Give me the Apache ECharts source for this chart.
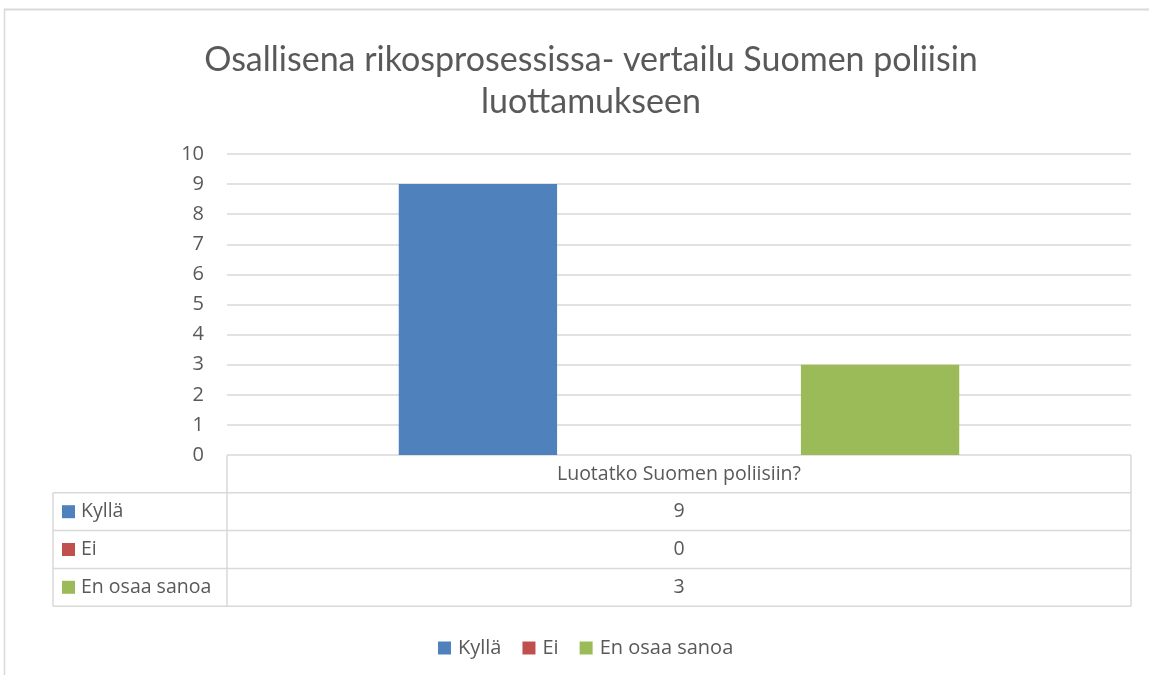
<!DOCTYPE html>
<html><head><meta charset="utf-8">
<script src="https://cdn.jsdelivr.net/npm/echarts@6/dist/echarts.min.js"></script>
<style>html,body{margin:0;padding:0;background:#fff}#c{width:1149px;height:675px}</style>
</head><body><div id="c"></div>
<script>
const titleText = 'Osallisena rikosprosessissa- vertailu Suomen poliisin\nluottamukseen';
const categories = ['Luotatko Suomen poliisiin?'];
const seriesNames = ['Kyllä', 'Ei', 'En osaa sanoa'];
const kylla = [9];
const ei = [0];
const enOsaa = [3];
const seriesValues = [kylla, ei, enOsaa];
const colors = ['#4F81BD', '#C0504D', '#9BBB59'];

const W = 1149, H = 675;
const gL = 227, gR = 1131, gT = 154, gB = 455;
const rowH = 37.8, tableL = 53;
const lineC = '#D9D9D9', textC = '#595959';
const tfont = 'Lato, "Liberation Sans", sans-serif';
const font = '"Open Sans", "Liberation Sans", sans-serif';
const fs = 19.5;

const chart = echarts.init(document.getElementById('c'));
const g = [];
// outer frame
g.push({type:'line', shape:{x1:4,y1:9.5,x2:W,y2:9.5}, style:{stroke:lineC,lineWidth:2}});
g.push({type:'line', shape:{x1:4.5,y1:9,x2:4.5,y2:H}, style:{stroke:lineC,lineWidth:1.5}});
// table lines
const nRows = seriesNames.length;
const tBottom = gB + rowH * (nRows + 1);
g.push({type:'line', shape:{x1:gL,y1:gB,x2:gL,y2:tBottom}, style:{stroke:lineC,lineWidth:1.5}});
g.push({type:'line', shape:{x1:gR,y1:gB,x2:gR,y2:tBottom}, style:{stroke:lineC,lineWidth:1.5}});
g.push({type:'line', shape:{x1:tableL,y1:gB+rowH,x2:tableL,y2:tBottom}, style:{stroke:lineC,lineWidth:1.5}});
for (let i = 1; i <= nRows + 1; i++) {
  const y = gB + rowH * i;
  g.push({type:'line', shape:{x1:tableL,y1:y,x2:gR,y2:y}, style:{stroke:lineC,lineWidth:1.5}});
}
const cx = (gL + gR) / 2;
g.push({type:'text', x:cx, y:gB + rowH/2 + 1, style:{text:categories[0], fill:textC, font:fs + 'px ' + font, align:'center', verticalAlign:'middle'}});
seriesNames.forEach((n, i) => {
  const yc = gB + rowH * (i + 1.5);
  g.push({type:'rect', shape:{x:tableL+9, y:yc-6.5, width:13, height:13}, style:{fill:colors[i]}});
  g.push({type:'text', x:tableL+28, y:yc, style:{text:n, fill:textC, font:fs + 'px ' + font, align:'left', verticalAlign:'middle'}});
  g.push({type:'text', x:cx, y:yc, style:{text:String(seriesValues[i][0]), fill:textC, font:fs + 'px ' + font, align:'center', verticalAlign:'middle'}});
});

chart.setOption({
  animation:false,
  backgroundColor:'#fff',
  title:{text:titleText, left:586, textAlign:'center', top:34, textStyle:{color:textC, fontSize:34, fontWeight:'normal', fontFamily:tfont, lineHeight:42}},
  legend:{top:633, left:433, itemWidth:13, itemHeight:13, itemGap:21, icon:'rect',
    textStyle:{color:textC, fontSize:20, fontFamily:font, padding:[0,0,0,2]}, data:seriesNames},
  grid:{left:gL, right:W-gR, top:gT, bottom:H-gB, containLabel:false},
  xAxis:{type:'category', data:categories, axisLine:{show:false}, axisTick:{show:false}, axisLabel:{show:false}},
  yAxis:{type:'value', min:0, max:10, interval:1,
    axisLabel:{color:textC, fontSize:20, fontFamily:font, margin:23},
    splitLine:{lineStyle:{color:lineC, width:1.5}}, axisLine:{show:false}, axisTick:{show:false}},
  series: seriesNames.map((n, i) => ({name:n, type:'bar', data:seriesValues[i], itemStyle:{color:colors[i]},
    barGap:'27%', barCategoryGap:'38%'})),
  graphic: g
});
</script></body></html>
